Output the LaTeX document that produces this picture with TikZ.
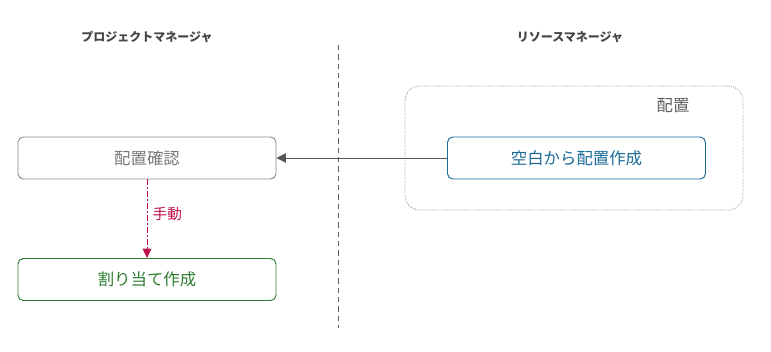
\documentclass[tikz,border=0pt]{standalone}
\usepackage{fontspec}
\setmainfont{Noto Sans CJK JP}
\usetikzlibrary{arrows.meta}
\definecolor{ttl}{HTML}{444444}
\definecolor{gbord}{HTML}{8A8A8A}
\definecolor{gtext}{HTML}{777777}
\definecolor{grn}{HTML}{2E7D32}
\definecolor{blu}{HTML}{1B6A97}
\definecolor{crim}{HTML}{C0104F}
\definecolor{darr}{HTML}{555555}
\tikzset{
  ttlnode/.style={text=ttl, font=\fontsize{9pt}{11pt}\selectfont\bfseries, anchor=center, inner sep=0pt},
  boxnode/.style={rounded corners=4pt, line width=0.7pt, minimum width=193.5pt, minimum height=31.5pt, inner sep=0pt, font=\fontsize{12.3pt}{14pt}\selectfont},
  grouplbl/.style={text=gtext!80!black, font=\fontsize{12.3pt}{14pt}\selectfont, inner sep=0pt},
}
\begin{document}
\begin{tikzpicture}[x=0.75pt,y=-0.75pt]
\useasboundingbox (0,0) rectangle (771,351);
\node[ttlnode] (t1) at (147,37) {プロジェクトマネージャ};
\node[ttlnode] (t2) at (570,37) {リソースマネージャ};
\coordinate (ltop) at (338,45);
\coordinate (lbot) at (338,328);
\draw[gbord!70!black, dashed, dash pattern=on 4pt off 3pt, line width=0.6pt] (ltop) -- (lbot);
\draw[gbord, densely dotted, line width=0.6pt, rounded corners=11pt] (405,86) rectangle (743,210);
\node[grouplbl, anchor=center] (g) at (673,106) {配置};
\node[boxnode, draw=gbord, text=gtext] (conf) at (147,158) {配置確認};
\node[boxnode, draw=grn, text=grn] (alloc) at (147,279.5) {割り当て作成};
\node[boxnode, draw=blu, text=blu] (blank) at (576.5,158) {空白から配置作成};
\draw[darr, line width=0.7pt, -{Triangle[length=7pt,width=7pt]}] (blank.west) -- (conf.east);
\draw[crim, line width=0.6pt, dash pattern=on 4pt off 2pt on 1pt off 2pt, -{Triangle[length=7pt,width=6.5pt]}] (conf.south) -- node[pos=0.44, right, text=crim, font=\fontsize{11pt}{12pt}\selectfont, inner sep=0pt, xshift=4pt] (lab) {手動} (alloc.north);
\end{tikzpicture}
\end{document}
